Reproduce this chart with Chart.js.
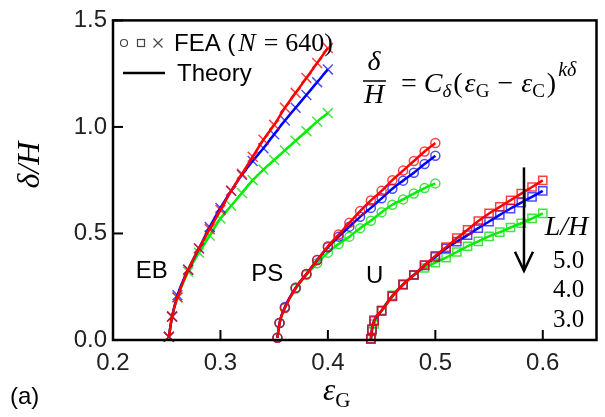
<!DOCTYPE html>
<html lang="en">
<head>
<meta charset="UTF-8">
<title>Deflection vs strain</title>
<script src="https://cdn.jsdelivr.net/npm/chart.js@4.4.1/dist/chart.umd.min.js"></script>
<style>
  body { margin: 0; background: #fff; }
  #wrap { width: 605px; height: 417px; }
</style>
</head>
<body>
<div id="wrap"><canvas id="chart" width="605" height="417"></canvas></div>
<script>
// axis ticks
const xTicks = [0.2, 0.3, 0.4, 0.5, 0.6];
const yTicks = [0.0, 0.5, 1.0, 1.5];

// EB branch (x markers)
const ebX   = [0.252, 0.255, 0.26, 0.27, 0.28, 0.29, 0.30, 0.31, 0.32, 0.33, 0.34, 0.35, 0.36, 0.37, 0.38, 0.39, 0.40];
const ebL50 = [0.015, 0.11, 0.20, 0.33, 0.43, 0.52, 0.61, 0.70, 0.78, 0.86, 0.94, 1.01, 1.09, 1.16, 1.23, 1.30, 1.37];
const ebL40 = [0.015, 0.11, 0.21, 0.33, 0.43, 0.53, 0.62, 0.70, 0.775, 0.84, 0.90, 0.965, 1.03, 1.09, 1.15, 1.21, 1.27];
const ebL30 = [0.015, 0.11, 0.20, 0.32, 0.41, 0.49, 0.57, 0.63, 0.69, 0.75, 0.80, 0.845, 0.89, 0.935, 0.98, 1.025, 1.065];

// PS branch (circles)
const psX   = [0.353, 0.355, 0.36, 0.37, 0.38, 0.39, 0.40, 0.41, 0.42, 0.43, 0.44, 0.45, 0.46, 0.47, 0.48, 0.49, 0.50];
const psL50 = [0.01, 0.08, 0.15, 0.245, 0.31, 0.375, 0.44, 0.495, 0.55, 0.605, 0.655, 0.70, 0.75, 0.795, 0.84, 0.885, 0.925];
const psL40 = [0.01, 0.08, 0.155, 0.245, 0.31, 0.375, 0.435, 0.485, 0.532, 0.578, 0.62, 0.665, 0.71, 0.748, 0.785, 0.826, 0.865];
const psL30 = [0.01, 0.08, 0.15, 0.24, 0.305, 0.36, 0.41, 0.45, 0.485, 0.525, 0.56, 0.60, 0.635, 0.66, 0.687, 0.713, 0.735];

// U branch (squares)
const uX   = [0.44, 0.441, 0.443, 0.45, 0.46, 0.47, 0.48, 0.49, 0.50, 0.51, 0.52, 0.53, 0.54, 0.55, 0.56, 0.57, 0.58, 0.59, 0.60];
const uL50 = [0.005, 0.05, 0.093, 0.137, 0.206, 0.26, 0.305, 0.352, 0.395, 0.436, 0.478, 0.517, 0.558, 0.594, 0.625, 0.656, 0.687, 0.718, 0.749];
const uL40 = [0.005, 0.05, 0.09, 0.137, 0.205, 0.26, 0.305, 0.35, 0.39, 0.43, 0.462, 0.492, 0.525, 0.556, 0.587, 0.617, 0.645, 0.672, 0.70];
const uL30 = [0.005, 0.04, 0.075, 0.14, 0.21, 0.262, 0.305, 0.338, 0.363, 0.387, 0.413, 0.44, 0.463, 0.486, 0.506, 0.528, 0.548, 0.571, 0.594];

const SANS = '"Liberation Sans", Arial, sans-serif';
const SERIF = '"Liberation Serif", "DejaVu Serif", serif';

const COLORS = {
  red:   { line: '#ff0000', mark: 'rgba(255,0,0,0.75)' },
  blue:  { line: '#0000ff', mark: 'rgba(0,0,255,0.7)' },
  green: { line: '#00ee00', mark: 'rgba(0,220,0,0.75)' }
};

function pts(xs, ys) {
  return xs.map((x, i) => ({ x: x, y: ys[i] }));
}

const groups = [
  { xs: ebX, style: 'crossRot', radius: 7, series: { green: ebL30, blue: ebL40, red: ebL50 } },
  { xs: psX, style: 'circle', radius: 4.5, series: { green: psL30, blue: psL40, red: psL50 } },
  { xs: uX, style: 'rect', radius: 5.8, series: { green: uL30, blue: uL40, red: uL50 } }
];

// green at the bottom, red on top; each colour: markers then theory line
const colorOrder = { green: 6, blue: 4, red: 2 };
const datasets = [];
groups.forEach(g => {
  ['green', 'blue', 'red'].forEach(c => {
    const data = pts(g.xs, g.series[c]);
    datasets.push({
      data: data,
      showLine: false,
      pointStyle: g.style,
      pointRadius: g.radius,
      pointBorderWidth: 1.5,
      pointBorderColor: COLORS[c].mark,
      pointBackgroundColor: 'rgba(0,0,0,0)',
      clip: false,
      order: colorOrder[c]
    });
    datasets.push({
      data: data,
      showLine: true,
      borderColor: COLORS[c].line,
      borderWidth: 2.5,
      pointRadius: 0,
      cubicInterpolationMode: 'monotone',
      order: colorOrder[c] - 1
    });
  });
});

// draws run of text pieces left to right
function run(ctx, x, y, parts) {
  parts.forEach(p => {
    ctx.font = p.f;
    ctx.fillText(p.t, x, y + (p.dy || 0));
    x += ctx.measureText(p.t).width + (p.sp || 0);
  });
  return x;
}

const decorations = {
  id: 'decorations',
  afterDatasetsDraw(chart) {
    const ctx = chart.ctx;
    const a = chart.chartArea;
    const xs = chart.scales.x, ys = chart.scales.y;
    ctx.save();
    ctx.strokeStyle = '#000';
    ctx.fillStyle = '#000';

    // inward tick marks
    ctx.lineWidth = 2;
    xTicks.forEach(v => {
      const px = xs.getPixelForValue(v);
      ctx.beginPath(); ctx.moveTo(px, a.bottom); ctx.lineTo(px, a.bottom - 10); ctx.stroke();
    });
    yTicks.forEach(v => {
      const py = ys.getPixelForValue(v);
      ctx.beginPath(); ctx.moveTo(a.left, py); ctx.lineTo(a.left + 10, py); ctx.stroke();
    });

    // frame
    ctx.lineWidth = 2.5;
    ctx.strokeRect(a.left, a.top, a.right - a.left, a.bottom - a.top);

    // legend
    ctx.strokeStyle = '#444';
    ctx.lineWidth = 1.2;
    ctx.beginPath(); ctx.arc(124, 43, 3.5, 0, Math.PI * 2); ctx.stroke();
    ctx.strokeRect(137.5, 39.5, 7, 7);
    ctx.beginPath();
    ctx.moveTo(153.5, 38.5); ctx.lineTo(162.5, 47.5);
    ctx.moveTo(162.5, 38.5); ctx.lineTo(153.5, 47.5);
    ctx.stroke();
    ctx.textBaseline = 'alphabetic';
    ctx.textAlign = 'left';
    run(ctx, 174, 51, [
      { t: 'FEA (', f: '24px ' + SANS, sp: 3 },
      { t: 'N', f: 'italic 26px ' + SERIF, sp: 8 },
      { t: '=', f: '26px ' + SERIF, sp: 7 },
      { t: '640)', f: '26px ' + SERIF }
    ]);
    ctx.strokeStyle = '#000';
    ctx.lineWidth = 2.5;
    ctx.beginPath(); ctx.moveTo(123, 73); ctx.lineTo(165, 73); ctx.stroke();
    ctx.font = '24px ' + SANS;
    ctx.fillText('Theory', 177, 81);

    // formula
    ctx.textAlign = 'center';
    ctx.font = 'italic 28px ' + SERIF;
    ctx.fillText('\u03b4', 374, 70);
    ctx.fillText('H', 374, 103);
    ctx.lineWidth = 1.5;
    ctx.beginPath(); ctx.moveTo(363, 81); ctx.lineTo(386, 81); ctx.stroke();
    ctx.textAlign = 'left';
    run(ctx, 401, 92, [
      { t: '=', f: '28px ' + SERIF, sp: 7 },
      { t: 'C', f: 'italic 28px ' + SERIF, sp: 0 },
      { t: '\u03b4', f: 'italic 19px ' + SERIF, dy: 5, sp: 2 },
      { t: '(', f: '28px ' + SERIF, sp: 2 },
      { t: '\u03b5', f: 'italic 28px ' + SERIF, sp: 0 },
      { t: 'G', f: '19px ' + SERIF, dy: 5, sp: 8 },
      { t: '\u2212', f: '28px ' + SERIF, sp: 8 },
      { t: '\u03b5', f: 'italic 28px ' + SERIF, sp: 0 },
      { t: 'C', f: '19px ' + SERIF, dy: 5, sp: 2 },
      { t: ')', f: '28px ' + SERIF, sp: 2 },
      { t: 'k\u03b4', f: 'italic 20px ' + SERIF, dy: -16 }
    ]);

    // branch labels
    ctx.textAlign = 'center';
    ctx.textBaseline = 'middle';
    ctx.font = '24px ' + SANS;
    ctx.fillText('EB', xs.getPixelForValue(0.236), ys.getPixelForValue(0.32));
    ctx.fillText('PS', xs.getPixelForValue(0.3435), ys.getPixelForValue(0.31));
    ctx.fillText('U', xs.getPixelForValue(0.4435), ys.getPixelForValue(0.30));

    // L/H arrow and values
    const ax = xs.getPixelForValue(0.5825);
    const aTop = ys.getPixelForValue(0.81), aBot = ys.getPixelForValue(0.325);
    ctx.lineWidth = 2.5;
    ctx.beginPath(); ctx.moveTo(ax, aTop); ctx.lineTo(ax, aBot); ctx.stroke();
    ctx.beginPath();
    ctx.moveTo(ax - 9, aBot - 19); ctx.lineTo(ax, aBot); ctx.lineTo(ax + 9, aBot - 19);
    ctx.stroke();
    ctx.font = 'italic 28px ' + SERIF;
    ctx.fillText('L/H', xs.getPixelForValue(0.622), ys.getPixelForValue(0.525));
    ctx.font = '25px ' + SERIF;
    ['5.0', '4.0', '3.0'].forEach((t, i) => {
      ctx.fillText(t, xs.getPixelForValue(0.624), ys.getPixelForValue(0.37 - i * 0.139));
    });

    // axis titles
    ctx.save();
    ctx.translate(31, 165);
    ctx.rotate(-Math.PI / 2);
    ctx.font = 'italic 32px ' + SERIF;
    ctx.fillText('\u03b4/H', 0, 0);
    ctx.restore();
    ctx.textAlign = 'left';
    ctx.textBaseline = 'alphabetic';
    run(ctx, 323, 400, [
      { t: '\u03b5', f: 'italic 31px ' + SERIF, sp: 0 },
      { t: 'G', f: '21px ' + SERIF, dy: 7 }
    ]);
    ctx.font = '24px ' + SANS;
    ctx.fillText('(a)', 10, 404);
    ctx.restore();
  }
};

new Chart(document.getElementById('chart'), {
  type: 'scatter',
  data: { datasets: datasets },
  plugins: [decorations],
  options: {
    responsive: false,
    animation: false,
    layout: { padding: { top: 15, right: 6, left: 0, bottom: 0 } },
    plugins: { legend: { display: false }, tooltip: { enabled: false } },
    scales: {
      x: {
        type: 'linear',
        min: 0.2,
        max: 0.65,
        afterBuildTicks: s => { s.ticks = xTicks.map(v => ({ value: v })); },
        afterFit: s => { s.height = 77; },
        grid: { display: false, drawTicks: false },
        border: { display: false },
        ticks: {
          padding: 9,
          maxRotation: 0,
          color: '#222',
          font: { family: SANS, size: 24 },
          callback: v => v.toFixed(1)
        }
      },
      y: {
        type: 'linear',
        min: 0,
        max: 1.5,
        afterBuildTicks: s => { s.ticks = yTicks.map(v => ({ value: v })); },
        afterFit: s => { s.width = 113; },
        grid: { display: false, drawTicks: false },
        border: { display: false },
        ticks: {
          padding: 6,
          color: '#222',
          font: { family: SANS, size: 24 },
          callback: v => v.toFixed(1)
        }
      }
    }
  }
});
</script>
</body>
</html>
